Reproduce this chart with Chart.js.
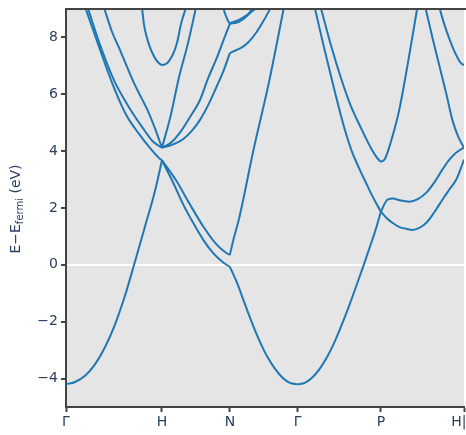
<!DOCTYPE html>
<html>
<head>
<meta charset="utf-8">
<script src="https://cdn.jsdelivr.net/npm/chart.js@4"></script>
<style>
  html, body { margin: 0; padding: 0; background: #fff; overflow: hidden; }
  #bands { display: block; }
</style>
</head>
<body>
<canvas id="bands" width="466" height="435"></canvas>
<script>
// k-path: high symmetry points and labels
const kTicks = [0, 1, 1.7071, 2.4142, 3.2802, 4.1463];
const kLabels = ['Γ', 'H', 'N', 'Γ', 'P', 'H|N'];
const eTicks = [-4, -2, 0, 2, 4, 6, 8];

// bands as [k, E - Efermi] pairs
const band1 = [
  [0, -4.2], [0.094, -4.12], [0.198, -3.9], [0.302, -3.5], [0.406, -2.9], [0.510, -2.1], [0.615, -1.08], [0.719, 0.12], [0.823, 1.35], [0.927, 2.6], [1, 3.68],
  [1.118, 2.88], [1.222, 2.12], [1.326, 1.47], [1.430, 0.88], [1.534, 0.41], [1.638, 0.08], [1.7071, -0.07],
  [1.780, -0.62], [1.853, -1.28], [1.936, -2.02], [2.009, -2.62], [2.092, -3.2], [2.176, -3.65], [2.259, -3.98], [2.332, -4.15], [2.4142, -4.2],
  [2.487, -4.15], [2.560, -3.98], [2.643, -3.66], [2.727, -3.2], [2.810, -2.62], [2.883, -2.02], [2.956, -1.38], [3.029, -0.7], [3.102, 0.0], [3.185, 0.82], [3.237, 1.36], [3.2802, 1.87],
  [3.348, 2.29], [3.410, 2.33], [3.473, 2.27], [3.577, 2.22], [3.660, 2.3], [3.754, 2.54], [3.837, 2.9], [3.921, 3.35], [3.994, 3.7], [4.066, 3.95], [4.1463, 4.13]
];
const band2 = [
  [0.201, 9.05], [0.347, 7.64], [0.486, 6.35], [0.625, 5.29], [0.764, 4.59], [0.903, 4.0], [0.969, 3.76], [1, 3.68],
  [1.153, 2.94], [1.292, 2.12], [1.430, 1.35], [1.570, 0.71], [1.674, 0.41], [1.7071, 0.35],
  [1.749, 0.95], [1.801, 1.6], [1.957, 4.1], [2.113, 6.4], [2.270, 9.05]
];
const band3 = [
  [0.226, 9.05], [0.365, 7.64], [0.503, 6.47], [0.659, 5.53], [0.799, 4.82], [0.903, 4.35], [1, 4.12],
  [1.104, 4.22], [1.219, 4.42], [1.3125, 4.72], [1.396, 5.1], [1.490, 5.68], [1.573, 6.3], [1.646, 6.87], [1.7071, 7.45],
  [1.770, 7.55], [1.832, 7.65], [1.905, 7.85], [1.988, 8.2], [2.061, 8.6], [2.134, 9.05]
];
const band4 = [
  [0.396, 9.05], [0.479, 8.2], [0.552, 7.64], [0.625, 7.05], [0.698, 6.47], [0.781, 5.9], [0.854, 5.41], [0.927, 4.8], [1, 4.12],
  [1.094, 4.3], [1.1875, 4.65], [1.292, 5.2], [1.396, 5.8], [1.479, 6.55], [1.573, 7.3], [1.646, 7.95], [1.7071, 8.48],
  [1.801, 8.55], [1.884, 8.75], [1.947, 9.05]
];
const band5a = [[1, 4.12], [1.094, 5.3], [1.177, 6.6], [1.271, 7.8], [1.354, 9.05]];
const band5b = [[1.635, 9.05], [1.667, 8.75], [1.698, 8.52], [1.7071, 8.5], [1.801, 8.62], [1.905, 8.83], [1.988, 9.05]];
const band6 = [
  [0.792, 9.05], [0.8125, 8.45], [0.844, 7.98], [0.875, 7.65], [0.906, 7.41], [0.9375, 7.22], [0.969, 7.09], [1, 7.02],
  [1.052, 7.09], [1.083, 7.22], [1.115, 7.41], [1.156, 7.8], [1.198, 8.47], [1.25, 9.05]
];
const bandP2 = [
  [2.591, 9.05], [2.695, 7.55], [2.800, 6.1], [2.904, 4.76], [2.977, 4.0], [3.060, 3.35], [3.133, 2.83], [3.195, 2.4], [3.2802, 1.87],
  [3.348, 1.62], [3.400, 1.48], [3.473, 1.33], [3.546, 1.27], [3.608, 1.23], [3.681, 1.3], [3.754, 1.48], [3.837, 1.85], [3.921, 2.29], [3.994, 2.65], [4.066, 3.0], [4.108, 3.35], [4.1463, 3.7]
];
const bandP3 = [
  [2.654, 9.05], [2.758, 7.75], [2.862, 6.6], [2.966, 5.6], [3.081, 4.76], [3.185, 4.06], [3.237, 3.78], [3.2802, 3.62],
  [3.317, 3.7], [3.348, 3.94], [3.421, 4.76], [3.473, 5.47], [3.567, 7.2], [3.660, 9.05]
];
const bandH1 = [[3.744, 9.05], [3.817, 8.0], [3.890, 7.0], [3.963, 6.0], [4.025, 5.1], [4.087, 4.5], [4.1463, 4.13]];
const bandH2 = [[3.890, 9.05], [3.942, 8.45], [3.994, 7.95], [4.035, 7.6], [4.077, 7.3], [4.108, 7.12], [4.1463, 7.02]];

const bands = [band1, band2, band3, band4, band5a, band5b, band6, bandP2, bandP3, bandH1, bandH2];

const lineColor = '#1f77b4';
const textColor = '#2a3f5f';
const spineColor = '#444444';

// one dataset per band per path segment, so kinks at the special points stay sharp
const datasets = [];
bands.forEach((band) => {
  for (let i = 0; i < kTicks.length - 1; i++) {
    const a = kTicks[i] - 1e-4, b = kTicks[i + 1] + 1e-4;
    const pts = band.filter((p) => p[0] >= a && p[0] <= b).map((p) => ({ x: p[0], y: p[1] }));
    if (pts.length > 1) {
      datasets.push({ data: pts, borderColor: lineColor, borderWidth: 2, pointRadius: 0, cubicInterpolationMode: 'monotone', fill: false });
    }
  }
});

const frame = {
  id: 'frame',
  beforeDraw(chart) {
    const { ctx, chartArea: c } = chart;
    ctx.save();
    ctx.fillStyle = '#ffffff';
    ctx.fillRect(0, 0, chart.width, chart.height);
    ctx.fillStyle = '#e5e5e5';
    ctx.fillRect(c.left, c.top, c.right - c.left, c.bottom - c.top);
    ctx.restore();
  },
  afterDatasetsDraw(chart) {
    const { ctx, chartArea: c } = chart;
    ctx.save();
    ctx.strokeStyle = spineColor;
    ctx.lineWidth = 2;
    ctx.beginPath();
    ctx.moveTo(c.left - 1, c.top);
    ctx.lineTo(chart.width, c.top);
    ctx.stroke();
    ctx.restore();
  },
  afterDraw(chart) {
    // y title with subscript
    const ctx = chart.ctx;
    const parts = [
      { t: 'E−E', f: '14px "DejaVu Sans"', dy: 0 },
      { t: 'fermi', f: '10px "DejaVu Sans"', dy: 4 },
      { t: ' (eV)', f: '14px "DejaVu Sans"', dy: 0 }
    ];
    ctx.save();
    ctx.translate(16, 209);
    ctx.rotate(-Math.PI / 2);
    ctx.fillStyle = textColor;
    ctx.textBaseline = 'middle';
    ctx.textAlign = 'left';
    let total = 0;
    parts.forEach((p) => { ctx.font = p.f; p.w = ctx.measureText(p.t).width; total += p.w; });
    let x = -total / 2;
    parts.forEach((p) => { ctx.font = p.f; ctx.fillText(p.t, x, p.dy); x += p.w; });
    ctx.restore();
  }
};

const tickFont = { family: 'DejaVu Sans', size: 14 };

new Chart(document.getElementById('bands'), {
  type: 'line',
  data: { datasets },
  options: {
    responsive: false,
    animation: false,
    devicePixelRatio: 1,
    layout: { padding: { top: 9, right: 2, left: 0, bottom: 0 } },
    plugins: { legend: { display: false }, tooltip: { enabled: false } },
    scales: {
      x: {
        type: 'linear',
        min: 0,
        max: kTicks[kTicks.length - 1],
        afterBuildTicks: (s) => { s.ticks = kTicks.map((v) => ({ value: v })); },
        afterFit: (s) => { s.height = 28; s.paddingLeft = 0; s.paddingRight = 0; },
        ticks: { autoSkip: false, maxRotation: 0, padding: 2, color: textColor, font: tickFont, callback: (v, i) => kLabels[i] },
        grid: { drawOnChartArea: false, tickColor: spineColor, tickLength: 5, tickWidth: 2 },
        border: { display: true, color: spineColor, width: 2 }
      },
      y: {
        min: -5,
        max: 9,
        afterBuildTicks: (s) => { s.ticks = eTicks.map((v) => ({ value: v })); },
        afterFit: (s) => { s.width = 66; s.paddingTop = 0; s.paddingBottom = 0; },
        ticks: { padding: 3, color: textColor, font: tickFont, callback: (v) => (v < 0 ? '−' + Math.abs(v) : String(v)) },
        grid: {
          color: (c) => (c.tick && c.tick.value === 0 ? '#ffffff' : 'rgba(0,0,0,0)'),
          lineWidth: 2,
          tickColor: spineColor,
          tickLength: 5,
          tickWidth: 2
        },
        border: { display: true, color: spineColor, width: 2 }
      }
    }
  },
  plugins: [frame]
});
</script>
</body>
</html>
